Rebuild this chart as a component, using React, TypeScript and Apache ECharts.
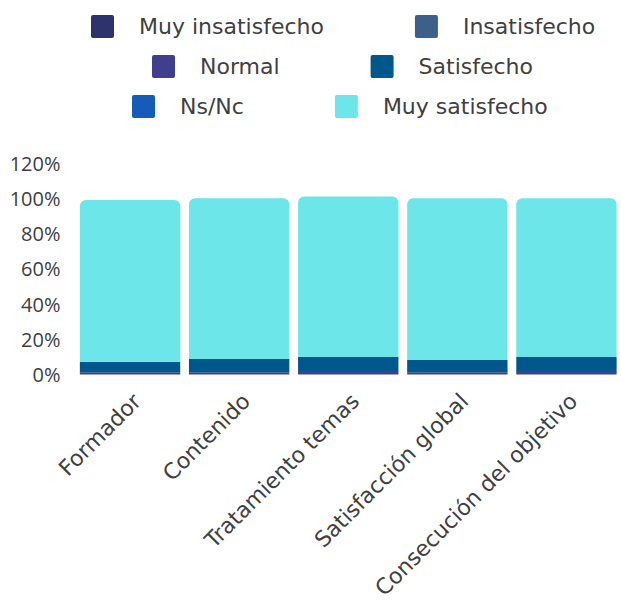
import React, { useEffect, useRef } from "react";
import * as echarts from "echarts";

const categories = [
  "Formador",
  "Contenido",
  "Tratamiento temas",
  "Satisfacción global",
  "Consecución del objetivo",
];
const seriesNames = [
  "Muy insatisfecho",
  "Insatisfecho",
  "Normal",
  "Satisfecho",
  "Ns/Nc",
  "Muy satisfecho",
];
const muyInsatisfecho = [0, 0, 0, 0, 0];
const insatisfecho = [0, 0, 0, 0, 0];
const normal = [1.3, 1.3, 2.0, 1.3, 2.0];
const satisfecho = [6.0, 7.5, 8.0, 7.0, 8.0];
const nsnc = [0, 0, 0, 0, 0];
const muySatisfecho = [91.7, 91.2, 91.0, 91.7, 90.0];
const yTicks = { min: 0, max: 120, interval: 20 };

const colors = ["#2E336F", "#3C6089", "#3F3F8E", "#00578B", "#165BB8", "#6CE6E9"];
const FONT = "DejaVu Sans";
const NUM_FONT = "Open Sans";
const TEXT = "#404040";

export default function App() {
  const ref = useRef<HTMLDivElement>(null);
  useEffect(() => {
    const chart = echarts.init(ref.current!, null, { renderer: "svg" });
    const values = [muyInsatisfecho, insatisfecho, normal, satisfecho, nsnc, muySatisfecho];
    const legendBase = {
      orient: "horizontal" as const,
      itemWidth: 23,
      itemHeight: 23,
      itemGap: 91,
      icon: "path://M2,0 L21,0 Q23,0 23,2 L23,21 Q23,23 21,23 L2,23 Q0,23 0,21 L0,2 Q0,0 2,0 Z",
      padding: 0,
      textStyle: { fontFamily: FONT, fontSize: 22, color: TEXT, padding: [0, 0, 0, 20] },
    };
    chart.setOption({
      animation: false,
      color: colors,
      legend: [
        { ...legendBase, left: 91, top: 15, data: [seriesNames[0], seriesNames[1]] },
        { ...legendBase, left: 152, top: 55, data: [seriesNames[2], seriesNames[3]] },
        { ...legendBase, left: 132, top: 95, data: [seriesNames[4], seriesNames[5]] },
      ],
      grid: { left: 75.5, right: -4.5, top: 163, bottom: 226.5, containLabel: false },
      xAxis: {
        type: "category",
        data: categories,
        axisLine: { show: false },
        axisTick: { show: false },
        axisLabel: {
          rotate: 45,
          margin: 30,
          interval: 0,
          padding: [0, -10, 0, 0],
          fontFamily: FONT,
          fontSize: 22,
          color: TEXT,
        },
      },
      yAxis: {
        type: "value",
        min: yTicks.min,
        max: yTicks.max,
        interval: yTicks.interval,
        splitLine: { show: false },
        axisLine: { show: false },
        axisTick: { show: false },
        axisLabel: {
          formatter: "{value}%",
          margin: 15,
          fontFamily: NUM_FONT,
          fontSize: 20,
          color: TEXT,
        },
      },
      series: seriesNames.map((name, i) => ({
        name,
        type: "bar",
        stack: "total",
        barCategoryGap: "8%",
        data: values[i],
        itemStyle: {
          color: colors[i],
          borderRadius: i === 5 ? [6, 6, 0, 0] : 0,
        },
      })),
    });
    return () => chart.dispose();
  }, []);
  return (
    <div
      ref={ref}
      style={{ position: "absolute", left: 0, top: 0, width: 621, height: 602 }}
    />
  );
}
